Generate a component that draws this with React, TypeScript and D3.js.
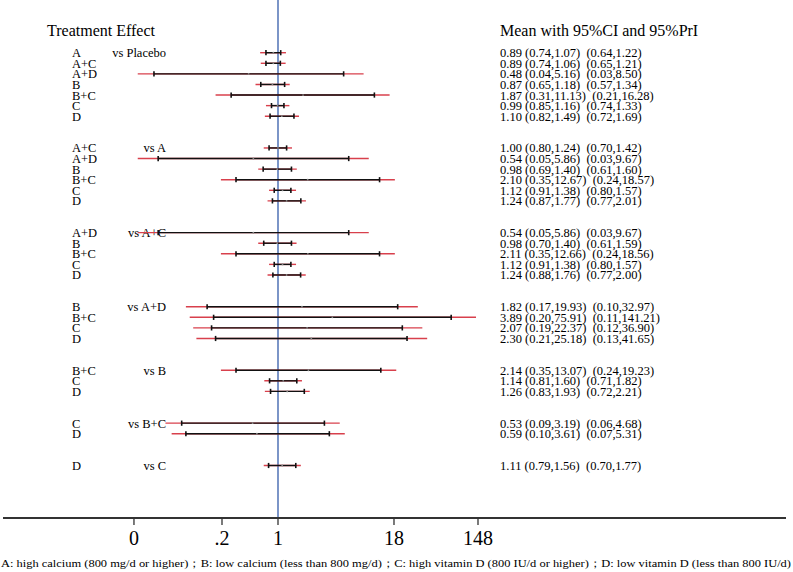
import { useRef, useEffect } from 'react'
import * as d3 from 'd3'

const comparators = ['Placebo', 'A', 'A+C', 'A+D', 'B', 'B+C', 'C']
const treatments = [
  ['A', 'A+C', 'A+D', 'B', 'B+C', 'C', 'D'],
  ['A+C', 'A+D', 'B', 'B+C', 'C', 'D'],
  ['A+D', 'B', 'B+C', 'C', 'D'],
  ['B', 'B+C', 'C', 'D'],
  ['B+C', 'C', 'D'],
  ['C', 'D'],
  ['D'],
]
const means = [
  0.89, 0.89, 0.48, 0.87, 1.87, 0.99, 1.10,
  1.00, 0.54, 0.98, 2.10, 1.12, 1.24,
  0.54, 0.98, 2.11, 1.12, 1.24,
  1.82, 3.89, 2.07, 2.30,
  2.14, 1.14, 1.26,
  0.53, 0.59,
  1.11,
]
const ciLow = [
  0.74, 0.74, 0.045, 0.65, 0.31, 0.85, 0.82,
  0.80, 0.05, 0.69, 0.35, 0.91, 0.87,
  0.05, 0.70, 0.35, 0.91, 0.88,
  0.17, 0.20, 0.19, 0.21,
  0.35, 0.81, 0.83,
  0.09, 0.10,
  0.79,
]
const ciHigh = [
  1.07, 1.06, 5.16, 1.18, 11.13, 1.16, 1.49,
  1.24, 5.86, 1.40, 12.67, 1.38, 1.77,
  5.86, 1.40, 12.66, 1.38, 1.76,
  19.93, 75.91, 22.37, 25.18,
  13.07, 1.60, 1.93,
  3.19, 3.61,
  1.56,
]
const priLow = [
  0.64, 0.65, 0.03, 0.57, 0.21, 0.74, 0.72,
  0.70, 0.03, 0.61, 0.24, 0.80, 0.77,
  0.03, 0.61, 0.24, 0.80, 0.77,
  0.10, 0.11, 0.12, 0.13,
  0.24, 0.71, 0.72,
  0.06, 0.07,
  0.70,
]
const priHigh = [
  1.22, 1.21, 8.50, 1.34, 16.28, 1.33, 1.69,
  1.42, 9.67, 1.60, 18.57, 1.57, 2.01,
  9.67, 1.59, 18.56, 1.57, 2.00,
  32.97, 141.21, 36.90, 41.65,
  19.23, 1.82, 2.21,
  4.68, 5.31,
  1.77,
]
const tickValues = [0.0273, 0.2466, 1, 18.17, 148.4]
const tickLabels = ['0', '.2', '1', '18', '148']
const footnote =
  'A: high calcium (800 mg/d or higher)；B: low calcium (less than 800 mg/d)；C: high vitamin D (800 IU/d or higher)；D: low vitamin D (less than 800 IU/d)'

const W = 793
const H = 572
const FONT = '"Liberation Serif", "Times New Roman", serif'

export default function App() {
  const svgRef = useRef(null)

  useEffect(() => {
    document.body.style.margin = '0'
    const svg = d3.select(svgRef.current)
    svg.selectAll('*').remove()
    svg.attr('width', W).attr('height', H).style('font-family', FONT)

    // rows: each group followed by two blank rows
    const rows = []
    let r = 0
    let k = 0
    treatments.forEach((g, gi) => {
      g.forEach((t, ti) => {
        rows.push({
          t, row: r, first: ti === 0, vs: comparators[gi],
          m: means[k], cl: ciLow[k], ch: ciHigh[k], pl: priLow[k], ph: priHigh[k],
        })
        r++
        k++
      })
      r += 2
    })

    const x = d3.scaleLog().domain([Math.exp(-6.9), Math.exp(12.7)]).range([2, 786])
    const y = d3.scaleLinear().domain([0, 39]).range([52.7, 465.5])
    const axisY = 518

    // headers
    svg.append('text').attr('x', 47).attr('y', 36).attr('font-size', 16).text('Treatment Effect')
    svg.append('text').attr('x', 500).attr('y', 36).attr('font-size', 16).text('Mean with 95%CI and 95%PrI')

    // reference line at 1
    svg.append('line')
      .attr('x1', x(1)).attr('x2', x(1)).attr('y1', 0).attr('y2', axisY)
      .attr('stroke', '#4468b0').attr('stroke-width', 1.4)

    // labels
    svg.selectAll('.trt').data(rows).join('text')
      .attr('class', 'trt')
      .attr('x', 72).attr('y', (d) => y(d.row) + 4.5)
      .attr('font-size', 12.5).text((d) => d.t)

    svg.selectAll('.vs').data(rows.filter((d) => d.first)).join('text')
      .attr('class', 'vs')
      .attr('x', 166).attr('y', (d) => y(d.row) + 4.5)
      .attr('text-anchor', 'end')
      .attr('font-size', 12.5).text((d) => `vs ${d.vs}`)

    // PrI
    svg.selectAll('.pri').data(rows).join('line')
      .attr('class', 'pri')
      .attr('x1', (d) => x(d.pl)).attr('x2', (d) => x(d.ph))
      .attr('y1', (d) => y(d.row)).attr('y2', (d) => y(d.row))
      .attr('stroke', '#d8404c').attr('stroke-width', 1.4)

    // CI
    svg.selectAll('.ci').data(rows).join('line')
      .attr('class', 'ci')
      .attr('x1', (d) => x(d.cl)).attr('x2', (d) => x(d.ch))
      .attr('y1', (d) => y(d.row)).attr('y2', (d) => y(d.row))
      .attr('stroke', '#111').attr('stroke-width', 1.4)

    const caps = rows.flatMap((d) => [{ v: d.cl, row: d.row }, { v: d.ch, row: d.row }])
    svg.selectAll('.cap').data(caps).join('line')
      .attr('class', 'cap')
      .attr('x1', (d) => x(d.v)).attr('x2', (d) => x(d.v))
      .attr('y1', (d) => y(d.row) - 2.6).attr('y2', (d) => y(d.row) + 2.6)
      .attr('stroke', '#111').attr('stroke-width', 1.6)

    svg.selectAll('.mean').data(rows).join('circle')
      .attr('class', 'mean')
      .attr('cx', (d) => x(d.m)).attr('cy', (d) => y(d.row)).attr('r', 0.9)
      .attr('fill', '#888')

    // value text
    const f = (v) => v.toFixed(2)
    svg.selectAll('.val').data(rows).join('text')
      .attr('class', 'val')
      .attr('x', 500).attr('y', (d) => y(d.row) + 4.5)
      .attr('font-size', 12.5)
      .style('white-space', 'pre')
      .text((d) => `${f(d.m)} (${f(d.cl === 0.045 ? 0.04 : d.cl)},${f(d.ch)})  (${f(d.pl)},${f(d.ph)})`)

    // x axis
    svg.append('line')
      .attr('x1', 3).attr('x2', 786).attr('y1', axisY).attr('y2', axisY)
      .attr('stroke', '#333').attr('stroke-width', 1.8)

    svg.selectAll('.tick').data(tickValues).join('line')
      .attr('class', 'tick')
      .attr('x1', (d) => x(d)).attr('x2', (d) => x(d))
      .attr('y1', axisY).attr('y2', axisY + 7)
      .attr('stroke', '#333').attr('stroke-width', 1.3)

    svg.selectAll('.tlab').data(tickValues).join('text')
      .attr('class', 'tlab')
      .attr('x', (d) => x(d)).attr('y', 545)
      .attr('text-anchor', 'middle').attr('font-size', 20)
      .text((_, i) => tickLabels[i])

    svg.append('text')
      .attr('x', 1).attr('y', 567).attr('font-size', 11)
      .attr('textLength', 790).attr('lengthAdjust', 'spacingAndGlyphs')
      .text(footnote)
  }, [])

  return <svg ref={svgRef} style={{ display: 'block' }} />
}
